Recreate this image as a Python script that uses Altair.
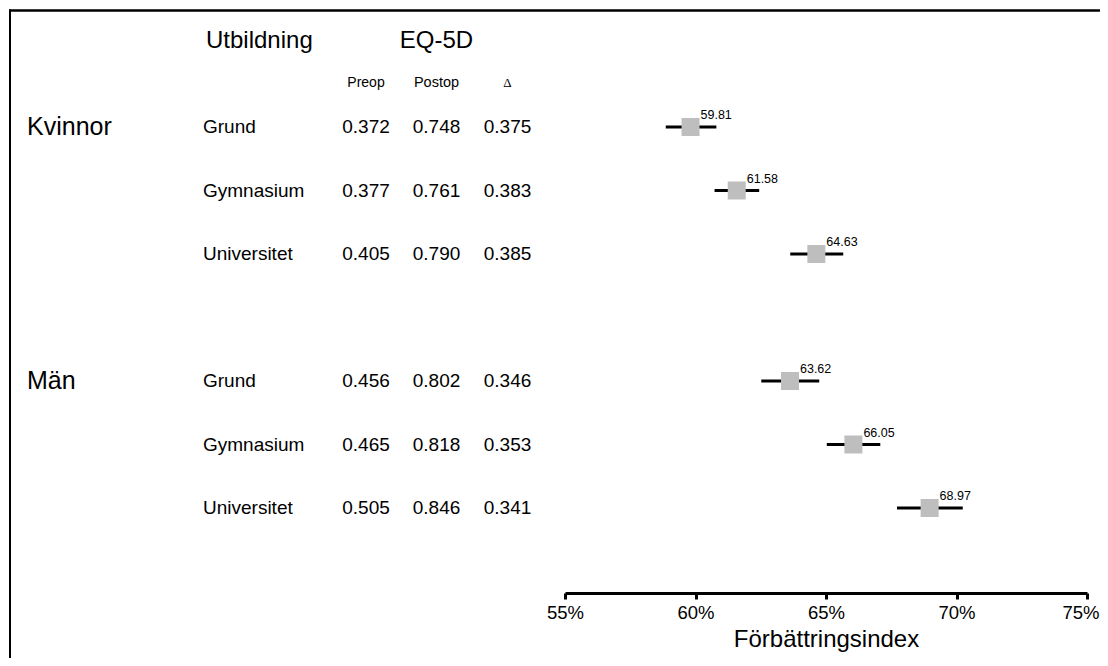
import altair as alt
import pandas as pd

# ---- data ----
groups = ["Kvinnor", "Män"]
group_rows = [0, 4]
education = ["Grund", "Gymnasium", "Universitet", "Grund", "Gymnasium", "Universitet"]
rows = [0, 1, 2, 4, 5, 6]
preop = [0.372, 0.377, 0.405, 0.456, 0.465, 0.505]
postop = [0.748, 0.761, 0.790, 0.802, 0.818, 0.846]
delta = [0.375, 0.383, 0.385, 0.346, 0.353, 0.341]
index_val = [59.81, 61.58, 64.63, 63.62, 66.05, 68.97]
ci_low = [58.86, 60.73, 63.63, 62.52, 65.03, 67.72]
ci_high = [60.80, 62.44, 65.66, 64.74, 67.08, 70.24]
tick_values = [55, 60, 65, 70, 75]

df = pd.DataFrame({
    "row": rows, "edu": education, "preop": preop, "postop": postop,
    "delta": delta, "idx": index_val, "lo": ci_low, "hi": ci_high,
})
gdf = pd.DataFrame({"group": groups, "row": group_rows})
one = pd.DataFrame({"k": [0]})

FONT = "Liberation Sans"
W, H = 1092, 585

x_scale = alt.Scale(domain=[55, 75], range=[557, 1079])
y_scale = alt.Scale(domain=[0, 6], range=[119, 500])

base = alt.Chart(df)

ci = base.mark_rule(strokeWidth=3, color="black", strokeCap="butt").encode(
    x=alt.X("lo:Q", scale=x_scale, title="Förbättringsindex",
            axis=alt.Axis(values=tick_values, labelExpr="datum.value + '%'",
                          labelFlush=False,
                          labelAlign={"condition": {"test": "datum.value == 75", "value": "right"},
                                      "value": "center"},
                          labelOffset={"condition": {"test": "datum.value == 75", "value": 12},
                                       "value": 0},
                          grid=False, domainColor="black", domainWidth=3,
                          tickColor="black", tickWidth=3, tickSize=6,
                          labelFontSize=18.5, labelColor="black", labelFont=FONT,
                          labelPadding=4, titleFontSize=24, titleFont=FONT,
                          titleFontWeight="normal", titleColor="black",
                          titlePadding=6)),
    x2="hi:Q",
    y=alt.Y("row:Q", scale=y_scale, axis=None),
)
sq = base.mark_square(size=324, color="#bebebe", opacity=1).encode(
    x=alt.X("idx:Q", scale=x_scale), y=alt.Y("row:Q", scale=y_scale))
lab = base.mark_text(align="left", baseline="alphabetic", dx=10, dy=-8,
                     fontSize=12.5, font=FONT, color="black").encode(
    x=alt.X("idx:Q", scale=x_scale), y=alt.Y("row:Q", scale=y_scale),
    text=alt.Text("idx:Q", format=".2f"))

grp = alt.Chart(gdf).mark_text(align="left", baseline="middle", fontSize=25,
                               font=FONT, color="black").encode(
    x=alt.value(19), y=alt.Y("row:Q", scale=y_scale), text="group:N")
edu = base.mark_text(align="left", baseline="middle", fontSize=19,
                     font=FONT, color="black").encode(
    x=alt.value(195), y=alt.Y("row:Q", scale=y_scale), text="edu:N")
c_pre = base.mark_text(align="center", baseline="middle", fontSize=19,
                       font=FONT, color="black").encode(
    x=alt.value(358), y=alt.Y("row:Q", scale=y_scale),
    text=alt.Text("preop:Q", format=".3f"))
c_post = base.mark_text(align="center", baseline="middle", fontSize=19,
                        font=FONT, color="black").encode(
    x=alt.value(428.5), y=alt.Y("row:Q", scale=y_scale),
    text=alt.Text("postop:Q", format=".3f"))
c_del = base.mark_text(align="center", baseline="middle", fontSize=19,
                       font=FONT, color="black").encode(
    x=alt.value(499.5), y=alt.Y("row:Q", scale=y_scale),
    text=alt.Text("delta:Q", format=".3f"))

h1 = alt.Chart(one).mark_text(text="Utbildning", align="left", baseline="alphabetic",
                              fontSize=24, font=FONT, color="black").encode(
    x=alt.value(198), y=alt.value(40))
h2 = alt.Chart(one).mark_text(text="EQ-5D", align="center", baseline="alphabetic",
                              fontSize=24, font=FONT, color="black").encode(
    x=alt.value(428.5), y=alt.value(40))
h3 = alt.Chart(one).mark_text(text="Preop", align="center", baseline="alphabetic",
                              fontSize=14, font=FONT, color="black").encode(
    x=alt.value(358), y=alt.value(79))
h4 = alt.Chart(one).mark_text(text="Postop", align="center", baseline="alphabetic",
                              fontSize=14.5, font=FONT, color="black").encode(
    x=alt.value(428.5), y=alt.value(79))
h5 = alt.Chart(one).mark_text(text="Δ", align="center", baseline="alphabetic",
                              fontSize=13, font="Liberation Serif", color="black").encode(
    x=alt.value(499.5), y=alt.value(79))

border_top = alt.Chart(one).mark_rule(color="black", strokeWidth=2.5).encode(
    x=alt.value(1), x2=alt.value(1092), y=alt.value(2.5))
border_left = alt.Chart(one).mark_rule(color="black", strokeWidth=2).encode(
    x=alt.value(2), y=alt.value(1.5), y2=alt.value(650))

chart = alt.layer(border_top, border_left, ci, sq, lab, grp, edu, c_pre, c_post,
                  c_del, h1, h2, h3, h4, h5).properties(
    width=W, height=H, background="white",
    padding={"left": 0, "top": 0, "right": 0, "bottom": 65},
    autosize=alt.AutoSizeParams(type="none"),
).configure_view(stroke=None)

chart.save("out.html", embed_options={"renderer": "svg", "actions": False})
